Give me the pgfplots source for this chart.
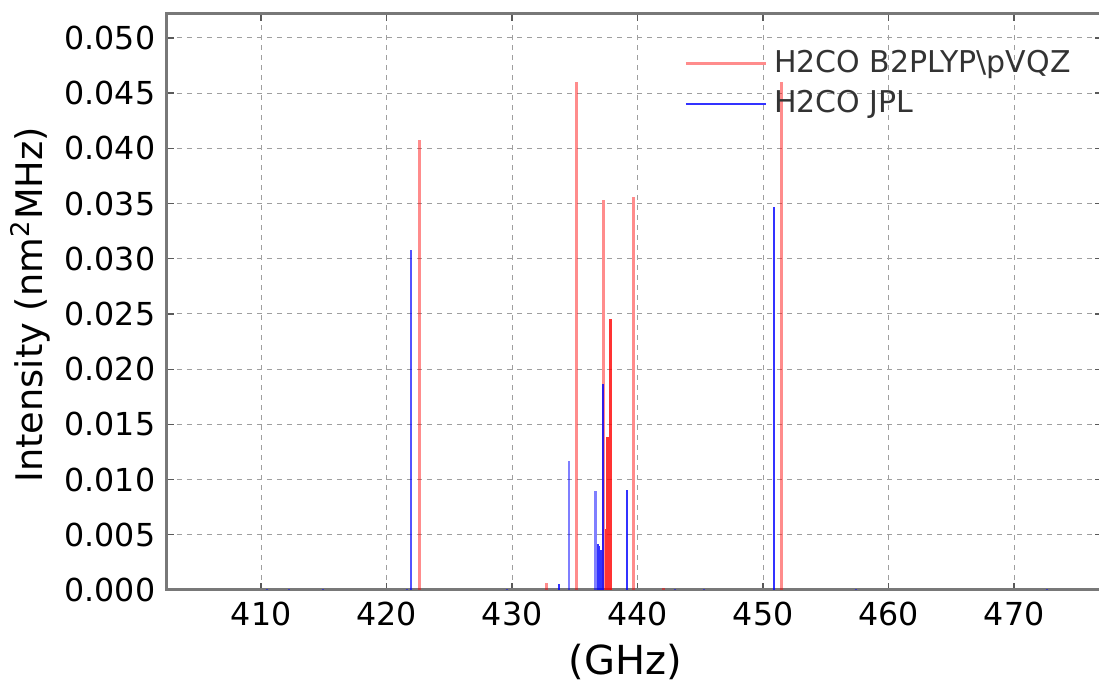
\documentclass[border=0pt]{standalone}
\usepackage{fontspec}
\setmainfont{DejaVu Sans}
\usepackage{pgfplots}
\pgfplotsset{compat=1.18}
\usetikzlibrary{calc}

\definecolor{specRed}{RGB}{255,0,0}
\definecolor{specBlue}{RGB}{0,0,255}
\definecolor{frameGray}{RGB}{120,120,120}

\begin{document}
\begin{tikzpicture}
\begin{axis}[
  name=ax,
  scale only axis,
  width=280.5pt, height=172.8pt,
  xmin=402.5, xmax=477,
  ymin=0, ymax=0.05217,
  xtick={410,420,430,440,450,460,470},
  ytick={0,0.005,0.010,0.015,0.020,0.025,0.030,0.035,0.040,0.045,0.050},
  scaled y ticks=false,
  /pgf/number format/assume math mode=true,
  yticklabel style={/pgf/number format/.cd, fixed, fixed zerofill, precision=3},
  xticklabel style={/pgf/number format/.cd, fixed, precision=0},
  ticklabel style={font=\fontsize{9.5}{11}\selectfont, text=black},
  grid=major,
  major grid style={gray!75, line width=0.3pt, dash pattern=on 1.5pt off 1.5pt},
  axis line style={frameGray, line width=0.9pt},
  tick style={gray!70!black, line width=0.4pt},
  major tick length=2pt,
  xlabel={(GHz)},
  ylabel={Intensity (nm\textsuperscript{2}MHz)},
  every axis x label/.style={at={(axis description cs:0.49,-0.125)}, anchor=center, font=\fontsize{12}{14}\selectfont},
  every axis y label/.style={at={(axis description cs:-0.1465,0.495)}, rotate=90, anchor=center, font=\fontsize{11}{13}\selectfont},
  legend style={at={(0.985,0.962)}, anchor=north east, draw=none, fill=none,
    font=\fontsize{9}{11}\selectfont, text=black!80, row sep=0pt},
  legend cell align=left,
  legend image code/.code={\draw[#1] (0pt,0pt) -- (24pt,0pt);},
]
% H2CO B2PLYP\pVQZ, lines drawn half transparent
\addplot[ycomb, draw=specRed, draw opacity=0.45, line width=0.9pt] coordinates {
  (422.58,0.0408) (435.16,0.0460) (437.25,0.0353) (439.67,0.0356)
  (451.47,0.0460) (432.72,0.0006) (442.10,0.0002)
};
\addlegendentry{H2CO B2PLYP\textbackslash pVQZ}
% H2CO JPL
\addplot[ycomb, draw=specBlue, draw opacity=0.8, line width=0.6pt] coordinates {
  (450.90,0.0347) (439.12,0.0091) (437.27,0.0187) (436.82,0.0042)
  (436.90,0.0040) (437.00,0.0036) (437.08,0.0036) (433.75,0.0005)
};
\addlegendentry{H2CO JPL}
% overlapping strong red lines in the 437-438 GHz group
\addplot[ycomb, draw=specRed, draw opacity=0.8, line width=0.8pt, forget plot] coordinates {
  (437.49,0.0055) (437.60,0.0139) (437.80,0.0245) (437.88,0.0245)
};
% lighter blue lines
\addplot[ycomb, draw=specBlue, draw opacity=0.5, line width=0.6pt, forget plot] coordinates {
  (421.94,0.0308) (434.55,0.0117) (436.62,0.0090) (436.70,0.0090)
  (410.50,0.0001) (412.25,0.0001) (414.90,0.0001) (421.65,0.0001)
  (429.60,0.0001) (443.00,0.0001) (445.30,0.0001) (457.40,0.0001)
  (472.60,0.0001)
};
\addplot[ycomb, draw=specBlue, draw opacity=0.35, line width=0.6pt, forget plot] coordinates {
  (421.94,0.0308)
};
\end{axis}
\pgfresetboundingbox
\path ($(ax.south west)+(-50.1pt,-28.2pt)$) rectangle ($(ax.north west)+(279.6pt,4.2pt)$);
\end{tikzpicture}
\end{document}
